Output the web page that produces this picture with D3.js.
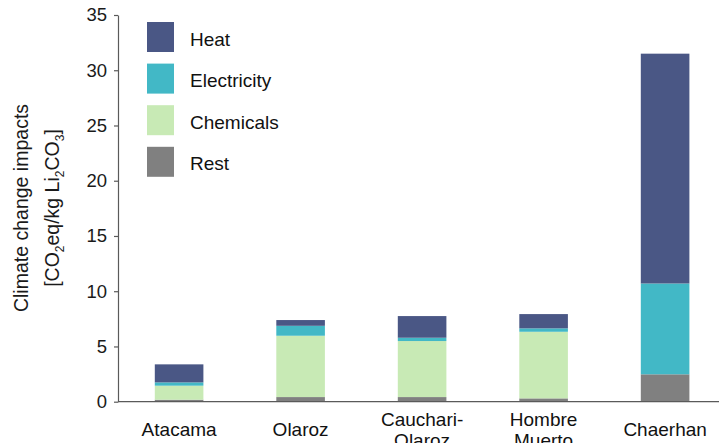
<!DOCTYPE html>
<html>
<head>
<meta charset="utf-8">
<script src="https://cdn.jsdelivr.net/npm/d3@7"></script>
<style>
  html, body { margin: 0; padding: 0; background: #fff; }
  svg { display: block; font-family: "Liberation Sans", Arial, sans-serif; }
</style>
</head>
<body>
<svg id="chart" width="719" height="443"></svg>
<script>
// Sites (x categories) and their label lines
const categories = ["Atacama", "Olaroz", "Cauchari-Olaroz", "Hombre Muerto", "Chaerhan"];
const categoryLines = [["Atacama"], ["Olaroz"], ["Cauchari-", "Olaroz"], ["Hombre", "Muerto"], ["Chaerhan"]];

// Contributions, kg CO2 eq per kg Li2CO3
const rest        = [0.18, 0.42, 0.42, 0.30, 2.48];
const chemicals   = [1.27, 5.55, 5.07, 6.03, 0.00];
const electricity = [0.30, 0.90, 0.30, 0.31, 8.22];
const heat        = [1.63, 0.52, 1.96, 1.29, 20.80];

// Series (stacked bottom to top) and legend entries (top to bottom)
const seriesKeys = ["rest", "chemicals", "electricity", "heat"];
const legendKeys = ["heat", "electricity", "chemicals", "rest"];
const legendLabels = { heat: "Heat", electricity: "Electricity", chemicals: "Chemicals", rest: "Rest" };
const colors = { heat: "#4a5785", electricity: "#42b8c6", chemicals: "#c8eab5", rest: "#808080" };

const yTicks = [0, 5, 10, 15, 20, 25, 30, 35];

const rows = categories.map((c, i) => ({
  category: c,
  rest: rest[i],
  chemicals: chemicals[i],
  electricity: electricity[i],
  heat: heat[i]
}));

const svg = d3.select("#chart");

const x = d3.scaleBand()
  .domain(categories)
  .range([118.35, 725.85])
  .paddingInner(0.6)
  .paddingOuter(0.3);

const y = d3.scaleLinear()
  .domain([0, 35])
  .range([401.7, 15]);

const stacked = d3.stack().keys(seriesKeys)(rows);

// Stacked bars
svg.append("g")
  .selectAll("g")
  .data(stacked)
  .join("g")
  .attr("fill", d => colors[d.key])
  .selectAll("rect")
  .data(d => d)
  .join("rect")
  .attr("x", d => x(d.data.category))
  .attr("width", x.bandwidth())
  .attr("y", d => y(d[1]))
  .attr("height", d => Math.max(0, y(d[0]) - y(d[1])));

// Y axis
const yAxis = svg.append("g")
  .attr("transform", "translate(118,0)")
  .call(d3.axisLeft(y).tickValues(yTicks).tickSize(4).tickSizeOuter(0).tickPadding(7));
yAxis.select(".domain").attr("stroke", "#5a5a5a").attr("stroke-width", 1.2);
yAxis.selectAll(".tick line").attr("stroke", "#5a5a5a").attr("stroke-width", 1.2);
yAxis.selectAll(".tick text")
  .attr("fill", "#1a1a1a")
  .style("font-size", "18.5px")
  .style("font-family", "'Liberation Sans', Arial, sans-serif");

// X baseline
svg.append("line")
  .attr("x1", 118).attr("x2", 719)
  .attr("y1", y(0)).attr("y2", y(0))
  .attr("stroke", "#5a5a5a")
  .attr("stroke-width", 1.2);

// X category labels (one or two lines, centred on the same point)
const labelCenter = 431;
const lineGap = 21;
const xLabels = svg.append("g")
  .selectAll("text")
  .data(categories)
  .join("text")
  .attr("text-anchor", "middle")
  .attr("fill", "#111")
  .style("font-size", "19px")
  .attr("transform", d => `translate(${x(d) + x.bandwidth() / 2},0)`);
xLabels.each(function (d, i) {
  const lines = categoryLines[i];
  const first = labelCenter + 5 - (lines.length - 1) * lineGap / 2;
  d3.select(this).selectAll("tspan")
    .data(lines)
    .join("tspan")
    .attr("x", 0)
    .attr("y", (l, j) => first + j * lineGap)
    .text(l => l);
});

// Y axis title (two lines, rotated)
const title = svg.append("g")
  .attr("transform", "translate(0,208) rotate(-90)")
  .attr("fill", "#1a1a1a")
  .style("font-size", "19.5px");
title.append("text")
  .attr("text-anchor", "middle")
  .attr("x", 0).attr("y", 28)
  .text("Climate change impacts");
const t2 = title.append("text")
  .attr("text-anchor", "middle")
  .attr("x", 0).attr("y", 59);
const parts = [["[CO", false], ["2", true], ["eq/kg Li", false], ["2", true], ["CO", false], ["3", true], ["]", false]];
parts.forEach(([s, sub]) => {
  const ts = t2.append("tspan").text(s);
  if (sub) ts.style("font-size", "12px").attr("baseline-shift", "-4.5");
});

// Legend
const legend = svg.append("g")
  .selectAll("g")
  .data(legendKeys)
  .join("g")
  .attr("transform", (d, i) => `translate(147,${22 + i * 41.6})`);
legend.append("rect")
  .attr("width", 27)
  .attr("height", 30)
  .attr("fill", d => colors[d]);
legend.append("text")
  .attr("x", 43)
  .attr("y", 23.5)
  .attr("fill", "#111")
  .style("font-size", "19px")
  .text(d => legendLabels[d]);
</script>
</body>
</html>
